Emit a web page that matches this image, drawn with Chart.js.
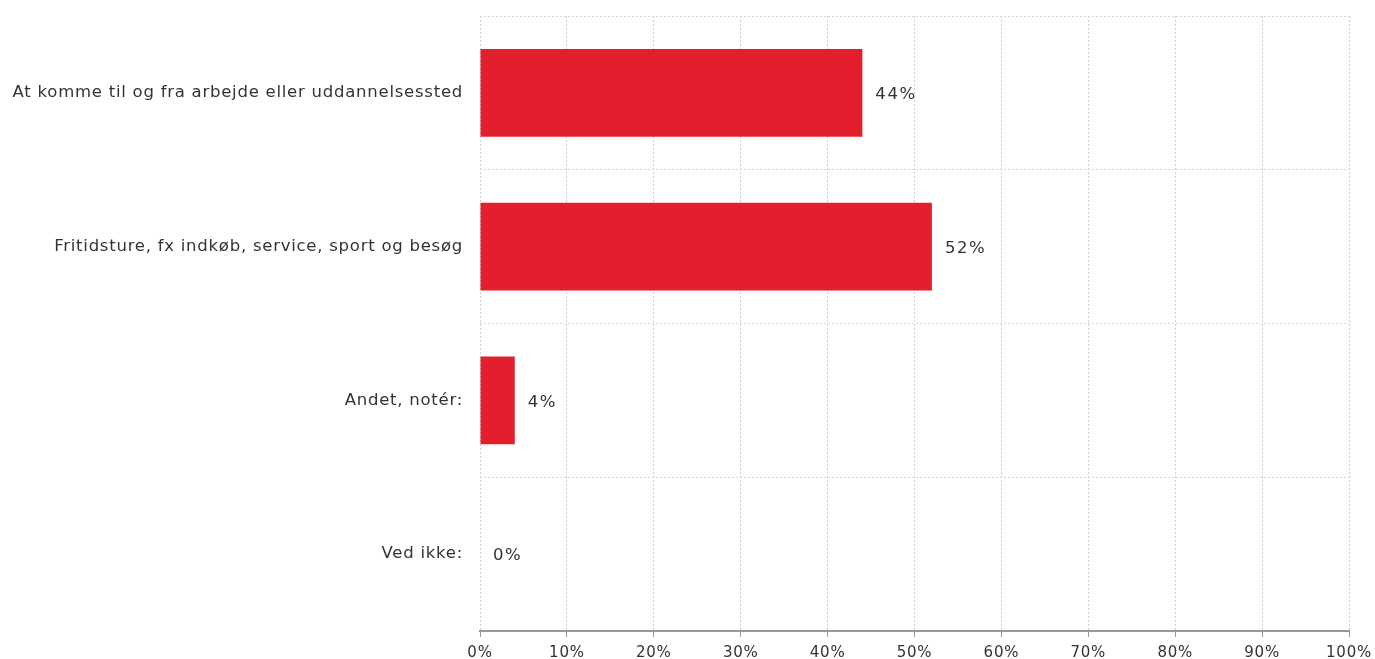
<!DOCTYPE html>
<html>
<head>
<meta charset="utf-8">
<script src="https://cdn.jsdelivr.net/npm/chart.js@4"></script>
<style>
  html, body { margin: 0; padding: 0; background: #fff; }
  #wrap { width: 1375px; height: 659px; }
</style>
</head>
<body>
<div id="wrap"><canvas id="chart" width="1375" height="659"></canvas></div>
<script>
const categories = [
  'At komme til og fra arbejde eller uddannelsessted',
  'Fritidsture, fx indkøb, service, sport og besøg',
  'Andet, notér:',
  'Ved ikke:'
];
const shares = [44, 52, 4, 0];
const xTicks = [0, 10, 20, 30, 40, 50, 60, 70, 80, 90, 100];

const FONT = '"DejaVu Sans", Verdana, sans-serif';

// slightly airy lettering for all axis text
const spacing = {
  id: 'spacing',
  beforeDraw(chart) {
    chart.ctx.letterSpacing = '0.75px';
  }
};

// writes the percentage just past the end of each bar
const valueLabels = {
  id: 'valueLabels',
  afterDatasetsDraw(chart) {
    const ctx = chart.ctx;
    const meta = chart.getDatasetMeta(0);
    ctx.save();
    ctx.letterSpacing = '1.6px';
    ctx.font = '16.5px ' + FONT;
    ctx.fillStyle = '#333';
    ctx.textAlign = 'left';
    ctx.textBaseline = 'middle';
    meta.data.forEach((bar, i) => {
      ctx.fillText(shares[i] + '%', bar.x + 13, bar.y + 2);
    });
    ctx.restore();
  }
};

new Chart(document.getElementById('chart').getContext('2d'), {
  type: 'bar',
  data: {
    labels: categories,
    datasets: [{
      data: shares,
      backgroundColor: '#e31e2d',
      borderWidth: 0,
      categoryPercentage: 1,
      barPercentage: 0.57
    }]
  },
  options: {
    indexAxis: 'y',
    responsive: false,
    animation: false,
    layout: { padding: { top: 16, right: 26, left: 0, bottom: 0 } },
    plugins: {
      legend: { display: false },
      tooltip: { enabled: false }
    },
    scales: {
      x: {
        min: 0,
        max: 100,
        afterBuildTicks(scale) {
          scale.ticks = xTicks.map(v => ({ value: v }));
        },
        afterFit(scale) {
          scale.height = 28;
          scale.paddingLeft = 0;
          scale.paddingRight = 0;
        },
        grid: {
          color: '#cfcfcf',
          tickColor: '#999',
          tickBorderDash: [],
          tickLength: 6,
          drawTicks: true
        },
        border: { display: true, color: '#999', width: 2, dash: [2, 2] },
        ticks: {
          padding: 7,
          color: '#333',
          font: { family: FONT, size: 15 },
          callback: v => v + '%'
        }
      },
      y: {
        afterFit(scale) {
          scale.width = 480;
          scale.paddingTop = 0;
          scale.paddingBottom = 0;
        },
        grid: {
          offset: true,
          color: '#d6d6d6',
          drawTicks: false
        },
        border: { display: false, dash: [2, 2] },
        ticks: {
          padding: 17,
          color: '#333',
          font: { family: FONT, size: 16.5 }
        }
      }
    }
  },
  plugins: [spacing, valueLabels]
});
</script>
</body>
</html>
